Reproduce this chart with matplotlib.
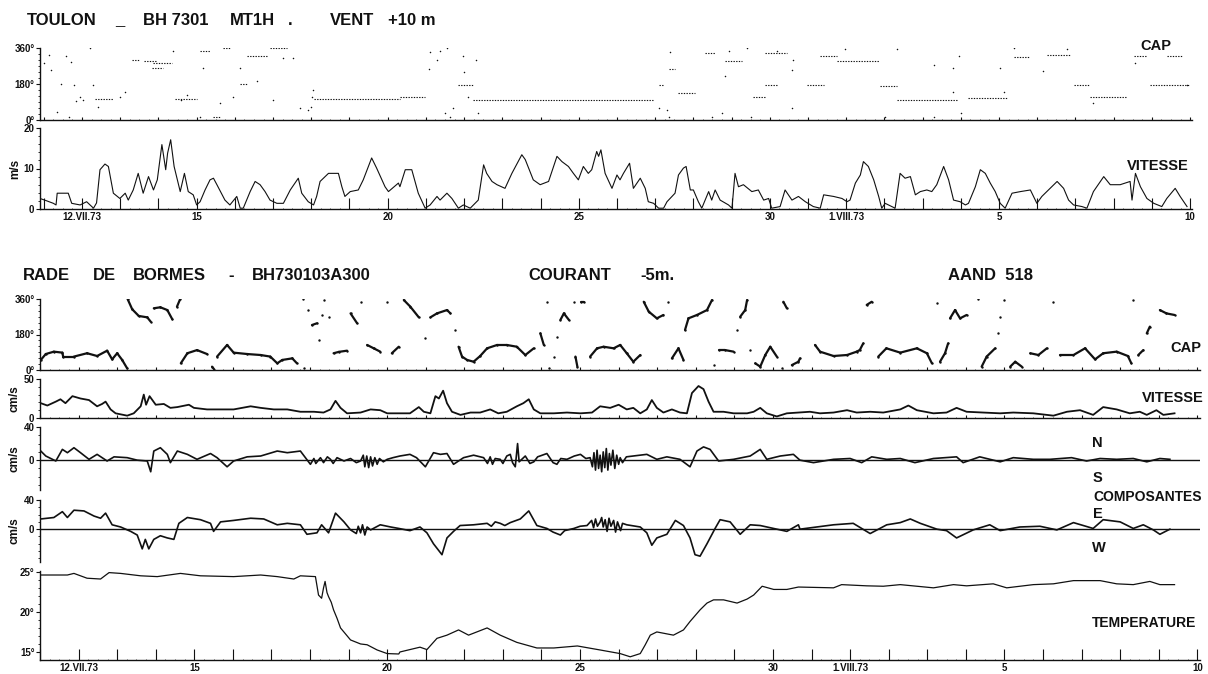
import matplotlib
matplotlib.use("Agg")
import matplotlib.pyplot as plt
import numpy as np

# ---- data (x = day of July 1973, August days continue as 32, 33, ...) ----
day_ticks = [12, 15, 20, 25, 30, 32, 36, 41]
day_labels = ["12.VII.73", "15", "20", "25", "30", "1.VIII.73", "5", "10"]

# Toulon wind speed (m/s)
wind_t = [10.90, 11.08, 11.25, 11.32, 11.35, 11.64, 11.73, 11.95, 12.12, 12.30, 12.38, 12.47,
          12.60, 12.69, 12.82, 12.99, 13.13, 13.21, 13.34, 13.47, 13.60, 13.74, 13.87, 13.97,
          14.09, 14.19, 14.24, 14.32, 14.41, 14.57, 14.68, 14.78, 14.91, 15.00, 15.09, 15.22,
          15.35, 15.44, 15.53, 15.74, 15.87, 16.05, 16.14, 16.22, 16.40, 16.53, 16.66, 16.79,
          16.92, 17.10, 17.27, 17.45, 17.66, 17.75, 17.92, 18.06, 18.14, 18.23, 18.45, 18.71,
          18.80, 18.88, 19.02, 19.23, 19.36, 19.58, 19.71, 19.93, 20.02, 20.28, 20.32, 20.46,
          20.63, 20.80, 20.98, 21.11, 21.29, 21.37, 21.55, 21.68, 21.85, 21.98, 22.16, 22.37,
          22.51, 22.59, 22.73, 22.86, 23.07, 23.25, 23.51, 23.60, 23.81, 23.99, 24.21, 24.43,
          24.56, 24.73, 24.86, 24.99, 25.12, 25.25, 25.34, 25.47, 25.52, 25.58, 25.69, 25.87,
          26.00, 26.08, 26.17, 26.33, 26.43, 26.61, 26.74, 26.82, 26.96, 27.09, 27.22, 27.31,
          27.52, 27.61, 27.74, 27.81, 27.92, 28.00, 28.13, 28.22, 28.40, 28.48, 28.57, 28.70,
          28.92, 29.01, 29.09, 29.18, 29.31, 29.53, 29.70, 29.84, 29.97, 30.05, 30.27, 30.40,
          30.58, 30.75, 30.93, 31.14, 31.32, 31.41, 31.67, 31.89, 32.02, 32.10, 32.24, 32.37,
          32.45, 32.58, 32.72, 32.85, 32.93, 33.02, 33.28, 33.41, 33.54, 33.68, 33.81, 33.94,
          34.11, 34.24, 34.37, 34.55, 34.68, 34.81, 34.98, 35.12, 35.20, 35.38, 35.51, 35.64,
          35.77, 35.90, 36.03, 36.16, 36.34, 36.56, 36.82, 36.99, 37.12, 37.25, 37.52, 37.69,
          37.82, 37.95, 38.17, 38.30, 38.47, 38.74, 38.91, 39.17, 39.43, 39.48, 39.57, 39.70,
          39.87, 40.05, 40.26, 40.39, 40.61, 40.74, 40.92]
wind_v = [2.6, 2.0, 1.4, 1.0, 3.9, 3.9, 1.4, 1.0, 1.8, 0.2, 1.5, 9.7,
          11.1, 10.5, 3.9, 2.6, 3.9, 2.2, 4.7, 8.8, 3.9, 8.0, 4.7, 7.2,
          15.9, 9.7, 13.8, 17.1, 10.5, 4.3, 8.8, 4.3, 3.5, 1.0, 1.8, 4.7,
          7.2, 7.6, 6.0, 2.2, 1.0, 3.1, 0.2, 0.2, 4.3, 6.8, 6.0, 4.3,
          2.2, 1.4, 1.4, 4.7, 7.6, 3.9, 1.8, 1.0, 3.1, 6.8, 8.8, 8.8,
          5.5, 3.1, 4.3, 4.7, 7.2, 12.6, 10.1, 5.5, 4.3, 6.4, 5.5, 9.7,
          9.7, 3.9, 0.2, 1.0, 3.1, 2.2, 3.9, 2.6, 0.2, 1.0, 0.2, 2.2,
          10.9, 8.8, 6.8, 6.0, 5.1, 8.8, 13.4, 12.2, 7.2, 6.0, 6.8, 13.0,
          11.7, 10.5, 8.8, 7.2, 10.5, 8.8, 9.7, 14.2, 13.0, 14.6, 8.8, 5.1,
          8.4, 7.2, 8.8, 11.3, 5.1, 7.6, 5.1, 1.8, 1.4, 0.2, 0.2, 1.8,
          3.9, 8.4, 10.1, 10.5, 4.7, 4.7, 1.8, 0.2, 4.3, 2.2, 4.7, 2.2,
          1.0, 0.2, 8.8, 5.5, 6.0, 4.3, 4.7, 2.2, 2.6, 0.2, 0.6, 4.7,
          2.2, 3.1, 1.8, 0.6, 0.2, 3.5, 3.1, 2.6, 1.8, 2.2, 6.4, 8.4,
          11.7, 10.5, 7.2, 3.1, 0.2, 1.4, 0.2, 8.8, 7.6, 8.0, 3.5, 4.3,
          4.7, 4.3, 6.0, 10.5, 7.2, 2.2, 1.8, 1.0, 1.4, 5.5, 9.7, 8.8,
          6.4, 4.3, 1.4, 0.2, 3.9, 4.3, 4.7, 1.4, 3.1, 4.3, 6.8, 5.1,
          2.2, 1.0, 0.6, 0.2, 4.3, 8.0, 6.0, 6.0, 6.8, 2.2, 8.8, 5.5,
          2.6, 1.4, 0.6, 2.6, 5.1, 3.1, 0.6]

# Toulon wind direction: steady runs (start, end, degrees) and isolated readings
wcap_run_start = [12.33, 13.30, 13.61, 13.87, 13.82, 14.43, 15.44, 16.14, 16.31, 16.92, 15.09, 15.70,
                  18.06, 20.32, 22.24, 21.83, 27.10, 27.35, 27.61, 28.30, 28.83, 29.57, 29.88, 29.88,
                  30.97, 31.32, 31.76, 32.89, 33.32, 35.20, 36.38, 37.25, 38.38, 39.52, 40.39, 39.96,
                  37.95]
wcap_run_end = [12.81, 13.52, 13.95, 14.35, 14.13, 15.00, 15.61, 16.31, 16.83, 17.36, 15.35, 15.87,
                20.32, 20.97, 26.95, 22.22, 27.22, 27.52, 28.05, 28.57, 29.27, 29.90, 30.46, 30.20,
                31.41, 31.76, 32.85, 33.32, 34.89, 36.20, 36.82, 37.86, 39.34, 39.87, 40.79, 41.00,
                38.38]
wcap_run_deg = [104, 301, 293, 285, 259, 104, 17, 179, 318, 360, 343, 360,
                104, 114, 100, 176, 176, 256, 137, 335, 296, 114, 335, 176,
                176, 318, 293, 171, 100, 109, 315, 326, 117, 318, 318, 176,
                176]
wcap_dot_t = [11.00, 11.13, 11.20, 11.35, 11.45, 11.57, 11.66, 11.70, 11.79, 11.85, 11.95, 12.03,
              12.21, 12.30, 12.43, 12.99, 13.13, 14.39, 14.60, 14.74, 15.09, 15.17, 15.61, 15.96,
              16.14, 16.57, 17.01, 17.27, 17.53, 17.71, 17.92, 17.99, 18.03, 18.05, 21.07, 21.12,
              21.29, 21.37, 21.51, 21.55, 21.64, 21.72, 21.96, 22.00, 22.10, 22.31, 22.37, 27.10,
              27.31, 27.35, 27.40, 28.48, 28.74, 28.83, 28.92, 29.40, 29.52, 30.20, 30.57, 30.58,
              30.62, 31.97, 33.02, 33.32, 34.31, 34.31, 34.79, 34.79, 34.96, 35.00, 36.03, 36.12,
              36.38, 37.16, 37.77, 38.47, 39.57, 40.92]
wcap_dot_deg = [285, 326, 250, 42, 180, 318, 17, 290, 176, 95, 117, 100,
                360, 176, 67, 117, 142, 343, 100, 126, 17, 259, 84, 117,
                259, 193, 100, 310, 310, 59, 50, 67, 117, 150, 256, 338,
                301, 343, 33, 360, 17, 59, 318, 238, 117, 301, 33, 59,
                50, 13, 338, 13, 33, 218, 343, 360, 13, 343, 59, 251,
                301, 355, 17, 355, 276, 17, 259, 142, 318, 33, 259, 142,
                360, 243, 355, 84, 285, 176]

# Rade de Bormes current direction (degrees)
ccap_t = [11.02, 11.15, 11.36, 11.58, 11.60, 11.88, 12.22, 12.48, 12.74, 12.87, 13.00, 13.13,
          13.26, 13.27, 13.39, 13.56, 13.78, 13.87, 13.95, 14.12, 14.30, 14.43, 14.55, 14.63,
          14.65, 14.82, 15.07, 15.33, 15.46, 15.52, 15.59, 15.85, 16.02, 16.37, 16.72, 16.97,
          17.15, 17.28, 17.54, 17.66, 17.82, 17.84, 17.95, 18.05, 18.18, 18.22, 18.30, 18.37,
          18.48, 18.61, 18.75, 18.96, 19.05, 19.22, 19.31, 19.48, 19.65, 19.82, 20.00, 20.12,
          20.30, 20.43, 20.60, 20.82, 20.99, 21.12, 21.29, 21.55, 21.64, 21.77, 21.85, 21.94,
          22.07, 22.24, 22.41, 22.59, 22.85, 23.10, 23.36, 23.58, 23.80, 23.97, 24.06, 24.14,
          24.19, 24.32, 24.41, 24.49, 24.58, 24.71, 24.84, 24.88, 24.93, 25.02, 25.10, 25.26,
          25.44, 25.61, 25.87, 26.04, 26.21, 26.38, 26.56, 26.65, 26.78, 26.99, 27.16, 27.29,
          27.38, 27.55, 27.68, 27.72, 27.81, 28.03, 28.29, 28.42, 28.46, 28.59, 28.76, 28.98,
          29.07, 29.15, 29.28, 29.33, 29.41, 29.54, 29.67, 29.80, 29.93, 30.10, 30.23, 30.27,
          30.36, 30.49, 30.66, 30.70, 31.09, 31.22, 31.57, 31.92, 32.17, 32.25, 32.34, 32.43,
          32.56, 32.73, 32.94, 33.30, 33.73, 33.99, 34.12, 34.25, 34.33, 34.46, 34.54, 34.59,
          34.72, 34.85, 35.02, 35.32, 35.41, 35.54, 35.76, 35.84, 35.89, 35.98, 36.15, 36.28,
          36.45, 36.67, 36.88, 37.10, 37.27, 37.44, 37.79, 38.09, 38.35, 38.56, 38.91, 39.20,
          39.29, 39.34, 39.47, 39.60, 39.69, 39.77, 40.03, 40.20, 40.41]
ccap_deg = [51, 81, 93, 88, 68, 68, 85, 71, 98, 54, 85, 51,
            8, 360, 308, 274, 267, 245, 313, 318, 304, 257, 321, 358,
            34, 85, 101, 81, 17, 2, 68, 127, 88, 81, 76, 68,
            34, 51, 59, 34, 360, 8, 304, 228, 237, 152, 279, 355,
            270, 85, 92, 98, 287, 237, 346, 127, 110, 93, 346, 85,
            118, 355, 321, 267, 160, 267, 287, 304, 287, 203, 118, 68,
            51, 42, 71, 110, 127, 127, 118, 76, 110, 186, 127, 346,
            8, 68, 169, 254, 287, 254, 346, 68, 17, 346, 346, 68,
            110, 118, 110, 127, 85, 42, 76, 346, 296, 262, 279, 346,
            59, 110, 51, 203, 262, 279, 304, 355, 25, 101, 101, 93,
            203, 270, 304, 355, 101, 34, 17, 76, 118, 68, 8, 346,
            313, 25, 42, 59, 127, 93, 71, 76, 93, 101, 135, 330,
            346, 68, 110, 88, 110, 85, 34, 338, 42, 85, 135, 262,
            304, 262, 279, 358, 17, 68, 110, 186, 270, 355, 17, 42,
            17, 85, 76, 110, 346, 76, 76, 110, 54, 85, 93, 71,
            34, 355, 76, 101, 186, 220, 304, 287, 279]

# current speed (cm/s)
cspd_t = [11.02, 11.19, 11.41, 11.53, 11.66, 11.84, 12.05, 12.27, 12.48, 12.61, 12.70, 12.83,
          12.96, 13.26, 13.43, 13.61, 13.69, 13.75, 13.84, 14.00, 14.21, 14.38, 14.56, 14.86,
          14.99, 15.33, 15.68, 16.02, 16.46, 16.72, 17.06, 17.41, 17.75, 18.10, 18.35, 18.53,
          18.66, 18.79, 18.96, 19.31, 19.57, 19.82, 20.00, 20.30, 20.59, 20.82, 20.95, 21.12,
          21.25, 21.34, 21.45, 21.55, 21.68, 21.90, 22.16, 22.41, 22.67, 22.88, 23.10, 23.36,
          23.53, 23.67, 23.80, 23.97, 24.32, 24.66, 25.01, 25.31, 25.52, 25.78, 26.00, 26.21,
          26.38, 26.56, 26.73, 26.86, 26.99, 27.16, 27.38, 27.59, 27.77, 27.90, 28.07, 28.20,
          28.33, 28.46, 28.72, 28.98, 29.33, 29.50, 29.67, 29.84, 30.10, 30.36, 30.66, 30.96,
          31.22, 31.57, 31.92, 32.17, 32.52, 32.86, 33.30, 33.51, 33.73, 34.16, 34.50, 34.76,
          35.02, 35.45, 35.89, 36.23, 36.75, 37.27, 37.62, 37.96, 38.30, 38.56, 38.91, 39.25,
          39.51, 39.69, 39.94, 40.12, 40.41]
cspd_v = [19, 16, 21, 24, 19, 28, 25, 23, 15, 18, 21, 11,
          6, 3, 6, 15, 30, 17, 28, 17, 18, 13, 14, 17,
          13, 11, 11, 11, 15, 13, 11, 11, 8, 8, 7, 11,
          22, 13, 6, 7, 11, 10, 6, 6, 6, 14, 8, 6,
          28, 25, 35, 19, 8, 4, 7, 7, 11, 6, 8, 15,
          19, 24, 11, 6, 6, 7, 6, 7, 15, 13, 17, 11,
          13, 6, 11, 23, 13, 7, 11, 7, 6, 32, 41, 37,
          21, 8, 8, 6, 6, 8, 13, 6, 2, 6, 7, 8,
          6, 7, 10, 7, 8, 7, 11, 16, 10, 6, 7, 13,
          8, 7, 6, 7, 6, 3, 8, 10, 4, 14, 11, 6,
          8, 4, 10, 4, 6]

# N-S component (cm/s)
cn_t = [11.02, 11.15, 11.41, 11.58, 11.71, 11.88, 12.05, 12.27, 12.48, 12.74, 12.92, 13.26,
        13.52, 13.78, 13.87, 13.95, 14.12, 14.30, 14.38, 14.56, 14.82, 15.07, 15.42, 15.59,
        15.85, 16.02, 16.37, 16.72, 17.15, 17.41, 17.75, 18.01, 18.10, 18.15, 18.27, 18.35,
        18.45, 18.53, 18.60, 18.70, 18.88, 19.05, 19.20, 19.31, 19.38, 19.42, 19.47, 19.52,
        19.57, 19.62, 19.68, 19.74, 19.80, 19.90, 20.00, 20.15, 20.33, 20.59, 20.76, 20.99,
        21.20, 21.38, 21.55, 21.72, 21.98, 22.24, 22.50, 22.60, 22.67, 22.73, 22.80, 22.93,
        23.00, 23.10, 23.19, 23.25, 23.32, 23.38, 23.42, 23.58, 23.70, 23.80, 23.90, 24.14,
        24.30, 24.40, 24.50, 24.66, 24.85, 25.01, 25.15, 25.26, 25.32, 25.36, 25.40, 25.44,
        25.48, 25.52, 25.56, 25.60, 25.64, 25.68, 25.72, 25.76, 25.80, 25.85, 25.90, 25.95,
        26.00, 26.04, 26.10, 26.20, 26.38, 26.73, 26.99, 27.25, 27.59, 27.85, 28.03, 28.20,
        28.37, 28.59, 28.98, 29.41, 29.67, 29.84, 30.19, 30.53, 30.70, 31.05, 31.57, 32.00,
        32.30, 32.56, 32.95, 33.30, 33.68, 34.16, 34.76, 34.93, 35.36, 35.89, 36.23, 36.75,
        37.18, 37.74, 38.13, 38.48, 38.91, 39.34, 39.69, 40.03, 40.29]
cn_v = [11, 5, -1, 13, 9, 15, 9, 1, 7, -1, 4, 3,
        0, -1, -14, 11, 15, 7, -3, 11, 7, 1, 8, 3,
        -8, -1, 4, 5, 11, 9, 11, -5, 2, -4, 3, -3,
        4, 1, -4, 3, -1, 2, -3, -1, 6, -8, 5, -9,
        4, -7, 3, -5, 2, -2, 1, 3, 5, 7, 3, -8,
        9, 7, 8, -5, 3, 6, 3, -4, 4, -5, 2, 1,
        -4, 5, 7, -3, -8, 20, -2, 5, -4, -2, 4, 8,
        -3, -5, 2, 1, 5, 7, 2, 3, -8, 9, -12, 12,
        -10, 6, -14, 10, -9, 14, -12, 8, -6, 12, -10, 6,
        -5, 3, -3, 4, 5, 7, 1, 4, 1, -8, 11, 16,
        13, -1, 1, 5, 13, 1, 5, 7, 0, -3, 1, 2,
        -3, 4, 1, 2, -3, 2, 4, -3, 4, -2, 3, 1,
        1, 3, -1, 2, 1, 2, -2, 2, 1]

# E-W component (cm/s)
ce_t = [11.02, 11.36, 11.58, 11.71, 11.88, 12.14, 12.40, 12.57, 12.70, 12.87, 13.09, 13.35,
        13.52, 13.65, 13.73, 13.82, 13.95, 14.12, 14.30, 14.47, 14.60, 14.82, 15.16, 15.42,
        15.50, 15.68, 16.02, 16.46, 16.80, 17.15, 17.41, 17.75, 17.92, 18.18, 18.30, 18.48,
        18.66, 18.88, 19.05, 19.20, 19.25, 19.31, 19.36, 19.42, 19.48, 19.57, 19.82, 20.09,
        20.30, 20.59, 20.85, 21.03, 21.20, 21.42, 21.55, 21.72, 21.89, 22.24, 22.59, 22.70,
        22.80, 22.93, 23.05, 23.19, 23.45, 23.67, 23.88, 24.14, 24.30, 24.49, 24.60, 24.84,
        25.00, 25.18, 25.30, 25.35, 25.40, 25.45, 25.52, 25.56, 25.60, 25.65, 25.70, 25.75,
        25.80, 25.87, 25.92, 25.97, 26.05, 26.10, 26.21, 26.56, 26.73, 26.86, 26.99, 27.25,
        27.47, 27.68, 27.85, 27.98, 28.11, 28.29, 28.50, 28.63, 28.89, 29.15, 29.41, 29.67,
        30.02, 30.36, 30.66, 30.70, 31.13, 31.57, 32.08, 32.52, 32.95, 33.30, 33.56, 33.82,
        34.25, 34.50, 34.76, 35.19, 35.62, 35.89, 36.40, 36.92, 37.36, 37.79, 38.30, 38.56,
        39.00, 39.34, 39.60, 39.86, 40.03, 40.29]
ce_v = [14, 16, 24, 16, 26, 25, 18, 15, 22, 6, 3, -3,
        -8, -27, -14, -27, -14, -9, -12, -14, 8, 16, 13, 8,
        -3, 10, 12, 15, 14, 6, 8, 6, -7, -5, 6, -5,
        22, 10, -1, -6, 4, -5, 6, -8, 3, -1, 6, 3,
        1, -2, 3, -5, -20, -35, -12, -3, 5, 6, 8, 4,
        10, 8, 5, 9, 14, 25, 5, 1, -4, -8, -2, 1,
        4, 5, 12, 2, 14, 4, 10, 16, 3, 13, -3, 15,
        4, 12, -4, 10, -2, 8, 6, 3, -5, -22, -12, -7,
        12, 5, -12, -35, -37, -20, 1, 13, 10, -7, 6, 5,
        1, -3, 6, 0, 3, 6, 8, -6, 6, 9, 14, 8,
        0, -2, -12, -1, 6, -2, 3, 4, -1, 9, 1, 13,
        10, 1, 6, -1, -7, 0]

# water temperature (deg C)
temp_t = [11.02, 11.71, 11.88, 12.22, 12.57, 12.79, 13.09, 13.61, 14.04, 14.64, 15.16, 16.02,
          16.72, 17.15, 17.58, 17.75, 18.14, 18.22, 18.30, 18.35, 18.39, 18.44, 18.48, 18.55,
          18.61, 18.70, 18.79, 19.05, 19.31, 19.48, 19.74, 20.00, 20.30, 20.33, 20.85, 21.03,
          21.29, 21.55, 21.85, 22.11, 22.59, 22.93, 23.36, 23.88, 24.32, 24.93, 25.52, 26.04,
          26.30, 26.56, 26.69, 26.82, 26.99, 27.42, 27.68, 27.85, 28.11, 28.29, 28.46, 28.72,
          29.07, 29.33, 29.50, 29.72, 30.02, 30.36, 30.66, 31.57, 31.78, 32.43, 32.86, 33.30,
          34.16, 34.68, 35.02, 35.71, 36.06, 36.75, 37.27, 37.79, 38.48, 38.91, 39.34, 39.77,
          40.03, 40.41]
temp_v = [24.6, 24.6, 24.8, 24.2, 24.1, 24.9, 24.8, 24.5, 24.4, 24.8, 24.5, 24.4,
          24.6, 24.4, 24.1, 24.5, 24.4, 22.1, 21.7, 23.0, 23.8, 22.4, 21.9, 21.2,
          20.25, 19.2, 18.0, 16.5, 16.0, 15.9, 15.25, 14.8, 14.75, 15.0, 15.6, 15.3,
          16.7, 17.1, 17.75, 17.1, 18.0, 17.1, 16.2, 15.5, 15.5, 15.75, 15.25, 14.8,
          14.4, 14.8, 15.9, 17.1, 17.5, 17.1, 17.75, 18.8, 20.25, 21.1, 21.5, 21.5,
          21.1, 21.6, 22.1, 23.2, 22.8, 22.8, 23.1, 23.0, 23.4, 23.25, 23.2, 23.4,
          23.0, 23.4, 23.25, 23.5, 23.0, 23.4, 23.5, 23.9, 23.9, 23.5, 23.4, 23.8,
          23.4, 23.4]

# ---- figure ----
W, H = 1208, 674
plt.rcParams["font.family"] = ["Liberation Sans", "DejaVu Sans"]
fig = plt.figure(figsize=(W / 100, H / 100), dpi=100)
INK = "#111111"


def px_axes(left, top, right, bottom):
    return fig.add_axes([left / W, 1 - bottom / H, (right - left) / W, (bottom - top) / H])


def style(ax, xlim, ylim, bottom=True):
    ax.set_xlim(*xlim)
    ax.set_ylim(*ylim)
    ax.patch.set_alpha(0)
    for s in ["top", "right"]:
        ax.spines[s].set_visible(False)
    ax.spines["bottom"].set_visible(bottom)
    for s in ["left", "bottom"]:
        ax.spines[s].set_color(INK)
        ax.spines[s].set_linewidth(1.0)
    ax.tick_params(axis="y", direction="out", length=3, width=0.8, colors=INK,
                   labelsize=7, pad=1)
    ax.tick_params(axis="y", which="minor", direction="out", length=1.5, width=0.6, colors=INK)
    for lab in ax.get_yticklabels():
        lab.set_fontweight("bold")
    ax.set_xticks(np.arange(11, 42))
    ax.set_xticks(np.arange(11, 41.1, 0.25), minor=True)
    ax.tick_params(axis="x", which="major", direction="in", length=2, width=0.8,
                   colors=INK, labelbottom=False)
    ax.tick_params(axis="x", which="minor", direction="in", length=1, width=0.5, colors=INK)
    if not bottom:
        ax.tick_params(axis="x", which="both", length=0)


def bold_y(ax):
    for lab in ax.get_yticklabels():
        lab.set_fontweight("bold")


def set_days(ax):
    ax.tick_params(axis="x", which="major", length=8, labelbottom=True,
                   labelsize=7, pad=2)
    ax.set_xticklabels([day_labels[day_ticks.index(d)] if d in day_ticks else ""
                        for d in range(11, 42)], fontweight="bold")


TOP_X = (10.9, 41.05)
BOT_X = (11.0, 41.07)

# ---------- Toulon wind ----------
ax = px_axes(40, 48, 1192, 120)
style(ax, TOP_X, (0, 360))
ax.hlines(wcap_run_deg, wcap_run_start, wcap_run_end, colors=INK, lw=0.8,
          linestyles=(0, (1.2, 1.2)))
ax.scatter(wcap_dot_t, wcap_dot_deg, s=1.2, color=INK, lw=0)
ax.set_yticks([0, 180, 360])
ax.set_yticklabels(["0°", "180°", "360°"])
ax.set_yticks(np.arange(0, 361, 30), minor=True)
bold_y(ax)

ax = px_axes(40, 128, 1192, 209)
style(ax, TOP_X, (0, 20))
ax.plot(wind_t, wind_v, color=INK, lw=0.8)
ax.set_yticks([0, 10, 20])
ax.set_yticks(np.arange(0, 21, 2), minor=True)
ax.set_ylabel("m/s", fontsize=8.5, fontweight="bold", labelpad=2, color=INK)
bold_y(ax)
set_days(ax)

# ---------- Rade de Bormes current ----------
ax = px_axes(40, 299, 1200, 370)
style(ax, BOT_X, (0, 360))
t = np.array(ccap_t)
dgr = np.array(ccap_deg)
for i in range(len(t) - 1):
    if abs(dgr[i + 1] - dgr[i]) < 60 and t[i + 1] - t[i] < 0.45:
        ax.plot(t[i:i + 2], dgr[i:i + 2], color=INK, lw=1.6, solid_capstyle="round")
ax.scatter(t, dgr, s=3, color=INK, lw=0)
ax.set_yticks([0, 180, 360])
ax.set_yticklabels(["0°", "180°", "360°"])
ax.set_yticks(np.arange(0, 361, 30), minor=True)
bold_y(ax)

ax = px_axes(40, 379, 1200, 418)
style(ax, BOT_X, (0, 50))
ax.plot(cspd_t, cspd_v, color=INK, lw=1.3)
ax.set_yticks([0, 50])
ax.set_yticks(np.arange(0, 51, 10), minor=True)
ax.set_ylabel("cm/s", fontsize=8.5, fontweight="bold", labelpad=2, color=INK)
bold_y(ax)

ax = px_axes(40, 427, 1200, 490)
style(ax, BOT_X, (-36, 40), bottom=False)
ax.axhline(0, color=INK, lw=1.0)
ax.plot(cn_t, cn_v, color=INK, lw=1.2)
ax.set_yticks([0, 40])
ax.set_yticks(np.arange(-30, 41, 10), minor=True)
ax.set_ylabel("cm/s", fontsize=8.5, fontweight="bold", labelpad=2, color=INK)
bold_y(ax)

ax = px_axes(40, 500, 1200, 562)
style(ax, BOT_X, (-45, 40), bottom=False)
ax.axhline(0, color=INK, lw=1.0)
ax.plot(ce_t, ce_v, color=INK, lw=1.2)
ax.set_yticks([0, 40])
ax.set_yticks(np.arange(-40, 41, 10), minor=True)
ax.set_ylabel("cm/s", fontsize=8.5, fontweight="bold", labelpad=2, color=INK)
bold_y(ax)

ax = px_axes(40, 571, 1200, 660)
style(ax, BOT_X, (14.0, 25.1))
ax.plot(temp_t, temp_v, color=INK, lw=0.9)
ax.set_yticks([15, 20, 25])
ax.set_yticklabels(["15°", "20°", "25°"])
ax.set_yticks(np.arange(15, 25.1, 1), minor=True)
bold_y(ax)
set_days(ax)


# ---------- texts ----------
def ftext(x, y, s, size=12, **kw):
    fig.text(x / W, 1 - y / H, s, fontsize=size, color=INK, va="baseline",
             fontweight="bold", **kw)


ftext(27, 25, "TOULON", 12)
ftext(115, 25, "_", 12)
ftext(143, 25, "BH 7301", 12)
ftext(230, 25, "MT1H", 12)
ftext(288, 25, ".", 12)
ftext(330, 25, "VENT", 12)
ftext(388, 25, "+10 m", 12)

ftext(23, 280, "RADE", 12)
ftext(93, 280, "DE", 12)
ftext(133, 280, "BORMES", 12)
ftext(228, 280, "-", 12)
ftext(252, 280, "BH730103A300", 12)
ftext(528, 280, "COURANT", 12)
ftext(640, 280, "-5m.", 12)
ftext(948, 280, "AAND  518", 12)

ftext(1140, 50, "CAP", 10.5)
ftext(1127, 170, "VITESSE", 10.5)
ftext(1170, 352, "CAP", 10.5)
ftext(1142, 402, "VITESSE", 10.5)
ftext(1092, 447, "N", 10.5)
ftext(1093, 482, "S", 10.5)
ftext(1093, 501, "COMPOSANTES", 10)
ftext(1093, 518, "E", 10.5)
ftext(1092, 552, "W", 10.5)
ftext(1092, 627, "TEMPERATURE", 10)

fig.savefig("out.png", dpi=100)
